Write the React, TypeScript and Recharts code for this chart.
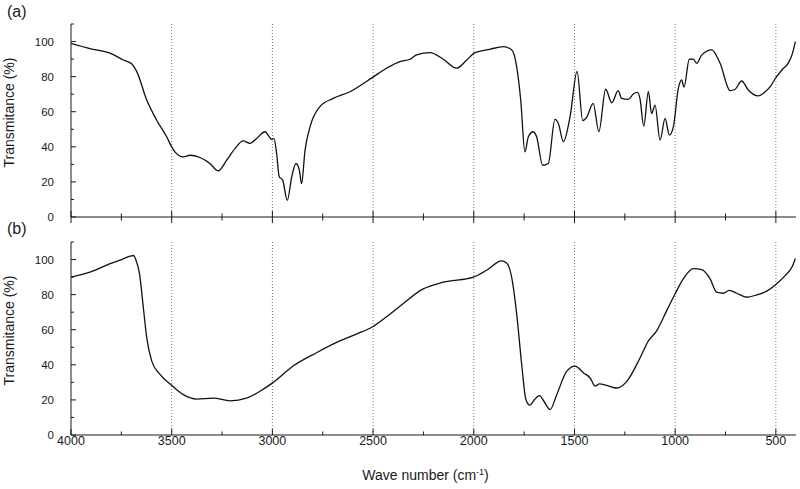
import { Line, LineChart, ReferenceLine, XAxis, YAxis } from "recharts";

// FTIR spectra, wavenumber (cm-1) vs transmittance (%)
const wavesA = [
  4000, 3906, 3806, 3740, 3699, 3674, 3624, 3575, 3525, 3500, 3483, 3442, 3409, 3360, 3310, 3269, 3227, 3186,
  3145, 3111, 3078, 3037, 3015, 3004, 2992, 2979, 2966, 2949, 2926, 2904, 2883, 2866, 2855, 2838, 2813, 2764,
  2698, 2615, 2502, 2433, 2367, 2317, 2284, 2218, 2151, 2085, 2035, 1994, 1920, 1853, 1812, 1787, 1767, 1746,
  1729, 1705, 1688, 1658, 1630, 1597, 1580, 1555, 1522, 1487, 1459, 1440, 1407, 1379, 1345, 1315, 1283, 1266,
  1233, 1208, 1188, 1175, 1156, 1133, 1117, 1100, 1075, 1050, 1029, 1009, 984, 968, 956, 930, 910, 893, 868,
  818, 777, 727, 702, 670, 637, 587, 553, 528, 500, 470, 437, 420, 403
];
const transA = [
  99, 96, 93.4, 89.5, 87.3, 83, 66.7, 55.3, 45.7, 40, 37, 34.3, 35.2, 33.9, 30.5, 26.3, 32.4, 39,
  43.4, 42, 44.8, 48.6, 45.7, 44.2, 44.7, 36.2, 22.9, 21, 9.5, 22.9, 30.5, 26.7, 19, 38, 51.4, 62.9,
  67.6, 71.4, 79.6, 84.8, 88.6, 89.9, 92.4, 93.7, 89.9, 84.8, 89.5, 93.7, 95.6, 97.1, 95.3, 85.7, 66.7, 37.1,
  45.7, 48.6, 45.7, 29.5, 30.5, 55.6, 53.3, 42.9, 57.1, 83, 54.9, 56.8, 64.8, 48.6, 72.8, 65.1, 72, 67.6,
  67, 70.1, 71, 67.6, 51.8, 71.4, 59, 63.8, 43.8, 56.2, 46.7, 51.4, 73.4, 78.1, 74, 89.9, 90, 87.6, 92.4,
  95.3, 87.6, 72, 72.8, 77.5, 72.4, 69, 71.4, 74.3, 79.4, 83.8, 88, 92.4, 100
];

const wavesB = [
  4000, 3889, 3806, 3748, 3707, 3690, 3677, 3660, 3641, 3624, 3599, 3558, 3500, 3442, 3376, 3293, 3210, 3128,
  3062, 2999, 2897, 2781, 2665, 2583, 2502, 2433, 2367, 2251, 2151, 2002, 1936, 1862, 1837, 1812, 1787, 1762,
  1741, 1721, 1699, 1674, 1651, 1621, 1588, 1538, 1497, 1455, 1422, 1397, 1376, 1340, 1290, 1240, 1174, 1133,
  1092, 1042, 1000, 959, 910, 868, 827, 794, 761, 731, 694, 644, 594, 545, 500, 453, 420, 403
];
const transB = [
  90, 93.5, 97.7, 100, 101.9, 102.3, 99.6, 92, 72.8, 55.5, 42.1, 34.5, 28.3, 23, 20.5, 21, 19.5, 21,
  24.9, 29.7, 39.3, 46.9, 53.6, 57.5, 61.7, 67.4, 73.4, 83.3, 87.1, 90, 93.9, 99.2, 98, 90, 69, 40.2,
  20.1, 17, 20.1, 22.4, 19.1, 14.5, 23, 36.4, 39.3, 35.4, 32.5, 27.8, 29.1, 28.3, 26.8, 30.6, 44, 53.6,
  59.4, 70.9, 80.5, 89.1, 94.8, 94.3, 89.1, 81.4, 80.8, 82.4, 80.8, 78.5, 79.9, 82, 85.8, 91, 95.7, 100.6
];

const xTicks = [4000, 3750, 3500, 3250, 3000, 2750, 2500, 2250, 2000, 1750, 1500, 1250, 1000, 750, 500];
const xLabels = [4000, 3500, 3000, 2500, 2000, 1500, 1000, 500];
const gridWaves = [3500, 3000, 2500, 2000, 1500, 1000, 500];
const yTicks = [0, 10, 20, 30, 40, 50, 60, 70, 80, 90, 100, 110];
const yLabels = [0, 20, 40, 60, 80, 100];

const FONT = "'Liberation Sans', Arial, sans-serif";
const INK = "#1a1a1a";
const X_DOMAIN: [number, number] = [400, 4000];
const Y_DOMAIN: [number, number] = [0, 110];

type Side = "bottomCross" | "bottomIn" | "topIn" | "leftIn" | "rightIn";

type TickProps = {
  x?: number;
  y?: number;
  payload?: { value: number };
  side: Side;
  labelled?: boolean;
};

function AxisTick({ x = 0, y = 0, payload, side, labelled }: TickProps) {
  const v = payload?.value ?? 0;
  const vertical = side === "leftIn" || side === "rightIn";
  const major = vertical ? yLabels.includes(v) : xLabels.includes(v);
  const len = vertical ? (major ? 5 : 3) : major ? 6 : 3.5;

  let line = null;
  if (side === "bottomCross") line = <line x1={x} x2={x} y1={y - len} y2={y + len} />;
  if (side === "bottomIn") line = <line x1={x} x2={x} y1={y - len} y2={y} />;
  if (side === "topIn") line = <line x1={x} x2={x} y1={y} y2={y + len} />;
  if (side === "leftIn") line = <line x1={x} x2={x + len} y1={y} y2={y} />;
  if (side === "rightIn") line = <line x1={x - len} x2={x} y1={y} y2={y} />;

  let label = null;
  if (labelled && major) {
    label = vertical ? (
      <text x={x - 17} y={y} dy="0.35em" textAnchor="end" fontSize={11.5} fill={INK} stroke="none" fontFamily={FONT}>
        {v}
      </text>
    ) : (
      <text x={x} y={y + 10} textAnchor="middle" fontSize={12.5} fill={INK} stroke="none" fontFamily={FONT}>
        {v}
      </text>
    );
  }

  return (
    <g stroke={INK} strokeWidth={1}>
      {line}
      {label}
    </g>
  );
}

type PanelProps = {
  waves: number[];
  trans: number[];
  height: number;
  marginTop: number;
  bottomAxisHeight: number;
  boxed: boolean;
};

function Panel({ waves, trans, height, marginTop, bottomAxisHeight, boxed }: PanelProps) {
  const data = waves.map((w, i) => ({ wave: w, t: trans[i] }));

  return (
    <LineChart width={800} height={height} data={data} margin={{ top: marginTop, right: 4, bottom: 0, left: 0 }}>
      {gridWaves.map((w) => (
        <ReferenceLine key={w} x={w} xAxisId="main" yAxisId="left" stroke="#777" strokeDasharray="1 2" strokeWidth={1} />
      ))}
      <XAxis
        xAxisId="main"
        dataKey="wave"
        type="number"
        domain={X_DOMAIN}
        allowDataOverflow
        reversed
        ticks={xTicks}
        interval={0}
        height={bottomAxisHeight}
        tickSize={0}
        tickMargin={0}
        tickLine={false}
        axisLine={{ stroke: INK }}
        tick={(p: any) => <AxisTick {...p} side={boxed ? "bottomCross" : "bottomIn"} labelled={!boxed} />}
        label={
          boxed
            ? undefined
            : {
                content: (props: any) => {
                  const vb = props.viewBox || { x: 71, y: 435, width: 725 };
                  return (
                    <text x={vb.x + vb.width / 2 - 8} y={vb.y + 45} textAnchor="middle" fontSize={14} fill={INK} fontFamily={FONT}>
                      <tspan>Wave number (cm</tspan>
                      <tspan dy={-5} fontSize={9}>-1</tspan>
                      <tspan dy={5}>)</tspan>
                    </text>
                  );
                }
              }
        }
      />
      {boxed && (
        <XAxis
          xAxisId="top"
          orientation="top"
          type="number"
          domain={X_DOMAIN}
          allowDataOverflow
          reversed
          ticks={xTicks}
          interval={0}
          height={0}
          tickSize={0}
          tickMargin={0}
          tickLine={false}
          axisLine={{ stroke: INK }}
          tick={(p: any) => <AxisTick {...p} side="topIn" />}
        />
      )}
      <YAxis
        yAxisId="left"
        type="number"
        domain={Y_DOMAIN}
        allowDataOverflow
        ticks={yTicks}
        interval={0}
        width={71}
        tickSize={0}
        tickMargin={0}
        tickLine={false}
        axisLine={{ stroke: INK }}
        tick={(p: any) => <AxisTick {...p} side="leftIn" labelled />}
        label={{
          content: (props: any) => {
            const vb = props.viewBox || { x: 0, y: marginTop, width: 71, height: 193 };
            const cx = vb.x + 14;
            const cy = vb.y + vb.height / 2 - 8;
            return (
              <text
                x={cx}
                y={cy}
                transform={`rotate(-90 ${cx} ${cy})`}
                textAnchor="middle"
                fontSize={14}
                fill={INK}
                fontFamily={FONT}
              >
                Transmitance (%)
              </text>
            );
          }
        }}
      />
      <YAxis
        yAxisId="right"
        orientation="right"
        type="number"
        domain={Y_DOMAIN}
        allowDataOverflow
        ticks={yTicks}
        interval={0}
        width={0}
        tickSize={0}
        tickMargin={0}
        tickLine={false}
        axisLine={{ stroke: INK }}
        tick={(p: any) => <AxisTick {...p} side="rightIn" />}
      />
      <Line
        xAxisId="main"
        yAxisId="left"
        type="monotone"
        dataKey="t"
        stroke="#111"
        strokeWidth={1.3}
        dot={false}
        activeDot={false}
        isAnimationActive={false}
      />
    </LineChart>
  );
}

const letterStyle = {
  position: "absolute" as const,
  left: 7,
  fontSize: 16,
  lineHeight: "18px",
  fontFamily: FONT,
  color: INK
};

export default function App() {
  return (
    <div style={{ position: "absolute", left: 0, top: 0, width: 800, height: 489, background: "#fff" }}>
      <Panel waves={wavesA} trans={transA} height={230} marginTop={24} bottomAxisHeight={13} boxed />
      <Panel waves={wavesB} trans={transB} height={259} marginTop={12} bottomAxisHeight={54} boxed={false} />
      <div style={{ ...letterStyle, top: 3 }}>(a)</div>
      <div style={{ ...letterStyle, top: 220 }}>(b)</div>
    </div>
  );
}
